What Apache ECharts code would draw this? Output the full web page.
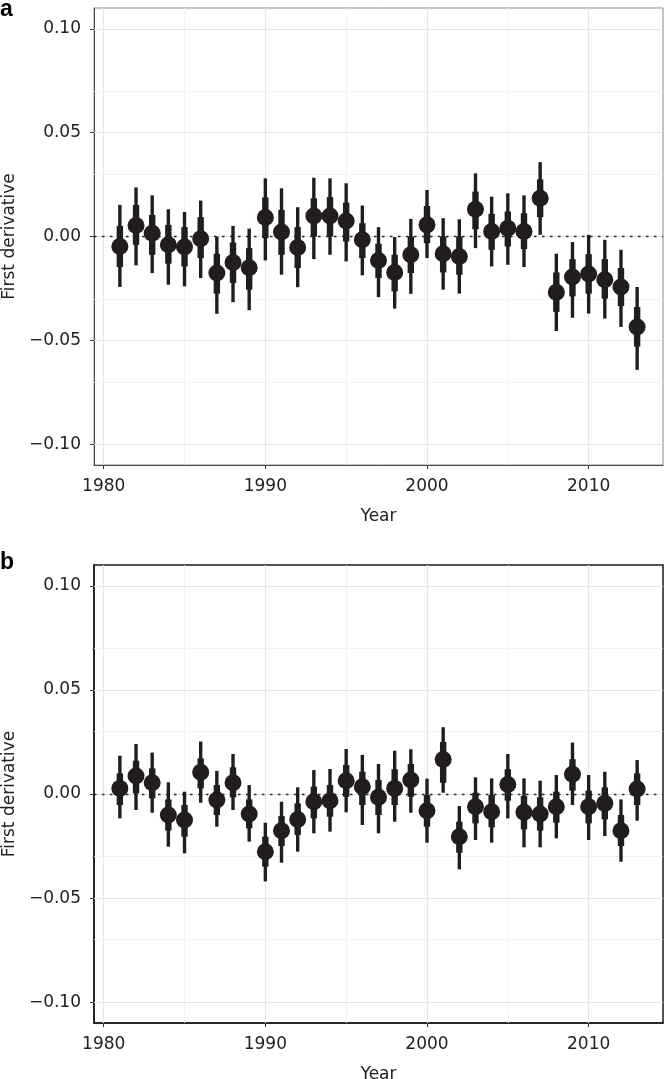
<!DOCTYPE html>
<html>
<head>
<meta charset="utf-8">
<script src="https://cdn.jsdelivr.net/npm/echarts@6/dist/echarts.min.js"></script>
<style>
html,body{margin:0;padding:0;background:#fff;}
#chart{width:664px;height:1079px;}
</style>
</head>
<body>
<div id="chart"></div>
<script>
// ---- data ----
const years = [1981,1982,1983,1984,1985,1986,1987,1988,1989,1990,1991,1992,1993,1994,1995,1996,1997,1998,1999,2000,2001,2002,2003,2004,2005,2006,2007,2008,2009,2010,2011,2012,2013];

// panel a
const aMid     = [-0.0048,0.0053,0.0016,-0.0040,-0.0051,-0.0011,-0.0176,-0.0125,-0.0150,0.0091,0.0022,-0.0053,0.0099,0.0099,0.0075,-0.0016,-0.0115,-0.0173,-0.0088,0.0056,-0.0083,-0.0096,0.0131,0.0024,0.0040,0.0024,0.0184,-0.0268,-0.0195,-0.0180,-0.0208,-0.0243,-0.0436];
const aOuterLo = [-0.0243,-0.0139,-0.0176,-0.0232,-0.0240,-0.0200,-0.0372,-0.0316,-0.0355,-0.0115,-0.0184,-0.0244,-0.0109,-0.0088,-0.0120,-0.0187,-0.0292,-0.0347,-0.0276,-0.0104,-0.0256,-0.0275,-0.0056,-0.0144,-0.0136,-0.0147,0.0008,-0.0455,-0.0391,-0.0371,-0.0395,-0.0435,-0.0642];
const aOuterHi = [0.0152,0.0236,0.0198,0.0131,0.0118,0.0173,0.0000,0.0051,0.0038,0.0280,0.0232,0.0141,0.0283,0.0280,0.0256,0.0149,0.0045,-0.0003,0.0085,0.0224,0.0088,0.0083,0.0304,0.0192,0.0208,0.0198,0.0358,-0.0083,-0.0027,0.0008,-0.0016,-0.0064,-0.0243];
const aInnerLo = [-0.0147,-0.0040,-0.0088,-0.0131,-0.0144,-0.0104,-0.0275,-0.0224,-0.0256,-0.0008,-0.0088,-0.0152,0.0000,0.0000,-0.0024,-0.0104,-0.0200,-0.0264,-0.0176,-0.0032,-0.0173,-0.0184,0.0035,-0.0064,-0.0048,-0.0061,0.0093,-0.0363,-0.0288,-0.0275,-0.0299,-0.0335,-0.0530];
const aInnerHi = [0.0051,0.0152,0.0104,0.0056,0.0045,0.0093,-0.0083,-0.0029,-0.0056,0.0188,0.0128,0.0045,0.0184,0.0190,0.0163,0.0064,-0.0035,-0.0088,0.0000,0.0147,0.0000,0.0000,0.0216,0.0109,0.0120,0.0112,0.0275,-0.0173,-0.0109,-0.0085,-0.0109,-0.0152,-0.0340];

// panel b
const bMid     = [0.0027,0.0087,0.0054,-0.0101,-0.0125,0.0104,-0.0029,0.0054,-0.0096,-0.0277,-0.0176,-0.0122,-0.0037,-0.0032,0.0064,0.0035,-0.0016,0.0027,0.0067,-0.0080,0.0166,-0.0205,-0.0061,-0.0085,0.0046,-0.0088,-0.0096,-0.0061,0.0095,-0.0061,-0.0045,-0.0176,0.0024];
const bOuterLo = [-0.0117,-0.0077,-0.0090,-0.0253,-0.0285,-0.0042,-0.0157,-0.0077,-0.0229,-0.0420,-0.0330,-0.0277,-0.0189,-0.0181,-0.0088,-0.0149,-0.0189,-0.0133,-0.0090,-0.0234,0.0006,-0.0362,-0.0221,-0.0234,-0.0117,-0.0256,-0.0256,-0.0213,-0.0053,-0.0221,-0.0202,-0.0325,-0.0128];
const bOuterHi = [0.0184,0.0240,0.0199,0.0056,0.0011,0.0252,0.0111,0.0192,0.0043,-0.0138,-0.0037,0.0032,0.0115,0.0120,0.0216,0.0188,0.0144,0.0208,0.0215,0.0074,0.0321,-0.0058,0.0080,0.0075,0.0192,0.0075,0.0064,0.0091,0.0247,0.0091,0.0107,-0.0026,0.0163];
const bInnerLo = [-0.0053,0.0003,-0.0021,-0.0176,-0.0205,0.0027,-0.0101,-0.0016,-0.0165,-0.0349,-0.0250,-0.0197,-0.0117,-0.0109,-0.0013,-0.0053,-0.0101,-0.0053,-0.0013,-0.0157,0.0054,-0.0282,-0.0141,-0.0160,-0.0032,-0.0170,-0.0176,-0.0138,0.0016,-0.0141,-0.0122,-0.0250,-0.0053];
const bInnerHi = [0.0099,0.0160,0.0123,-0.0026,-0.0053,0.0171,0.0043,0.0128,-0.0026,-0.0205,-0.0106,-0.0045,0.0035,0.0043,0.0139,0.0107,0.0067,0.0119,0.0144,-0.0005,0.0250,-0.0133,0.0006,-0.0005,0.0119,-0.0010,-0.0016,0.0011,0.0167,0.0016,0.0032,-0.0101,0.0099];

// ticks
const xTicks = [1980,1990,2000,2010];
const xTickLabels = ['1980','1990','2000','2010'];
const xMinor = [1985,1995,2005];
const yTicks = [-0.1,-0.05,0,0.05,0.1];
const yTickLabels = ['\u22120.10','\u22120.05','0.00','0.05','0.10'];
const yMinor = [-0.075,-0.025,0.025,0.075];
const panelLabels = ['a','b'];
const xName = 'Year';
const yName = 'First derivative';

// ---- chart ----
const FONT = 'DejaVu Sans';
const INK = '#211d1e';
const chart = echarts.init(document.getElementById('chart'), null, {renderer:'canvas'});

function fmt(ticks, labels){ return v => { const i = ticks.findIndex(t => Math.abs(t - v) < 1e-9); return i >= 0 ? labels[i] : ''; }; }

const grids = [
  {left:94, width:569, top:8, height:457, show:true, borderColor:'#8a8a8a', borderWidth:1, backgroundColor:'#fff', containLabel:false, outerBoundsMode:'none'},
  {left:94, width:569, top:565, height:458, show:true, borderColor:'#1a1a1a', borderWidth:1.5, backgroundColor:'#fff', containLabel:false, outerBoundsMode:'none'}
];
const axisCol = ['#4a4a4a','#1a1a1a'];

const xAxes = grids.map((g,i)=>({
  type:'value', gridIndex:i, min:1979.4, max:2014.6,
  name:xName, nameLocation:'middle', nameGap:43,
  nameTextStyle:{fontFamily:FONT, fontSize:17, color:'#222'},
  axisLine:{show:true, onZero:false, lineStyle:{color:axisCol[i], width:i?1.5:1}},
  axisTick:{show:true, customValues:xTicks, length:4, lineStyle:{color:'#333', width:1}},
  axisLabel:{show:true, customValues:xTicks, formatter:fmt(xTicks,xTickLabels), margin:13, fontFamily:FONT, fontSize:17, color:'#222'},
  splitLine:{show:false}
}));
const yAxes = grids.map((g,i)=>({
  type:'value', gridIndex:i, min:-0.11, max:0.11,
  name:yName, nameLocation:'middle', nameGap:67, nameRotate:90,
  nameTextStyle:{fontFamily:FONT, fontSize:17, color:'#222'},
  axisLine:{show:true, onZero:false, lineStyle:{color:axisCol[i], width:i?1.5:1}},
  axisTick:{show:true, customValues:yTicks, length:4, lineStyle:{color:'#333', width:1}},
  axisLabel:{show:true, customValues:yTicks, formatter:fmt(yTicks,yTickLabels), margin:13, fontFamily:FONT, fontSize:17, color:'#222'},
  splitLine:{show:false}
}));

function gridLines(){
  const L = [];
  xMinor.forEach(v => L.push({xAxis:v, lineStyle:{color:'#f0f0f0', width:0.8, type:'solid'}}));
  yMinor.forEach(v => L.push({yAxis:v, lineStyle:{color:'#f0f0f0', width:0.8, type:'solid'}}));
  xTicks.forEach(v => L.push({xAxis:v, lineStyle:{color:'#e6e6e6', width:1.2, type:'solid'}}));
  yTicks.forEach(v => L.push({yAxis:v, lineStyle:{color:'#e6e6e6', width:1.2, type:'solid'}}));
  L.push({yAxis:0, lineStyle:{color:'#222', width:1.3, type:[2.5,5.5]}});
  return L;
}

const panels = [
  {mid:aMid, oLo:aOuterLo, oHi:aOuterHi, iLo:aInnerLo, iHi:aInnerHi},
  {mid:bMid, oLo:bOuterLo, oHi:bOuterHi, iLo:bInnerLo, iHi:bInnerHi}
];

const series = [];
panels.forEach((p,i)=>{
  series.push({
    type:'scatter', xAxisIndex:i, yAxisIndex:i, data:[], z:1, silent:true,
    markLine:{silent:true, z:1, zlevel:0, symbol:['none','none'], label:{show:false}, animation:false, data:gridLines()}
  });
  series.push({
    type:'custom', xAxisIndex:i, yAxisIndex:i, z:3, silent:true,
    data: years.map((y,k)=>[y, p.oLo[k], p.oHi[k], p.iLo[k], p.iHi[k]]),
    renderItem:(params, api)=>{
      const x = api.value(0);
      const a1 = api.coord([x, api.value(1)]), a2 = api.coord([x, api.value(2)]);
      const b1 = api.coord([x, api.value(3)]), b2 = api.coord([x, api.value(4)]);
      return {type:'group', children:[
        {type:'line', shape:{x1:a1[0], y1:a1[1], x2:a2[0], y2:a2[1]}, style:{stroke:INK, lineWidth:3.4}},
        {type:'line', shape:{x1:b1[0], y1:b1[1], x2:b2[0], y2:b2[1]}, style:{stroke:INK, lineWidth:6.4}}
      ]};
    }
  });
  series.push({
    type:'scatter', xAxisIndex:i, yAxisIndex:i, z:4, silent:true,
    symbol:'circle', symbolSize:17, itemStyle:{color:INK, opacity:1},
    data: years.map((y,k)=>[y, p.mid[k]])
  });
});

chart.setOption({
  animation:false,
  backgroundColor:'#fff',
  grid:grids, xAxis:xAxes, yAxis:yAxes, series:series,
  graphic:[
    {type:'text', left:0, top:-2, style:{text:panelLabels[0], fontFamily:'Liberation Sans', fontWeight:'bold', fontSize:23, fill:'#000'}},
    {type:'text', left:0, top:551, style:{text:panelLabels[1], fontFamily:'Liberation Sans', fontWeight:'bold', fontSize:23, fill:'#000'}}
  ]
});
</script>
</body>
</html>
